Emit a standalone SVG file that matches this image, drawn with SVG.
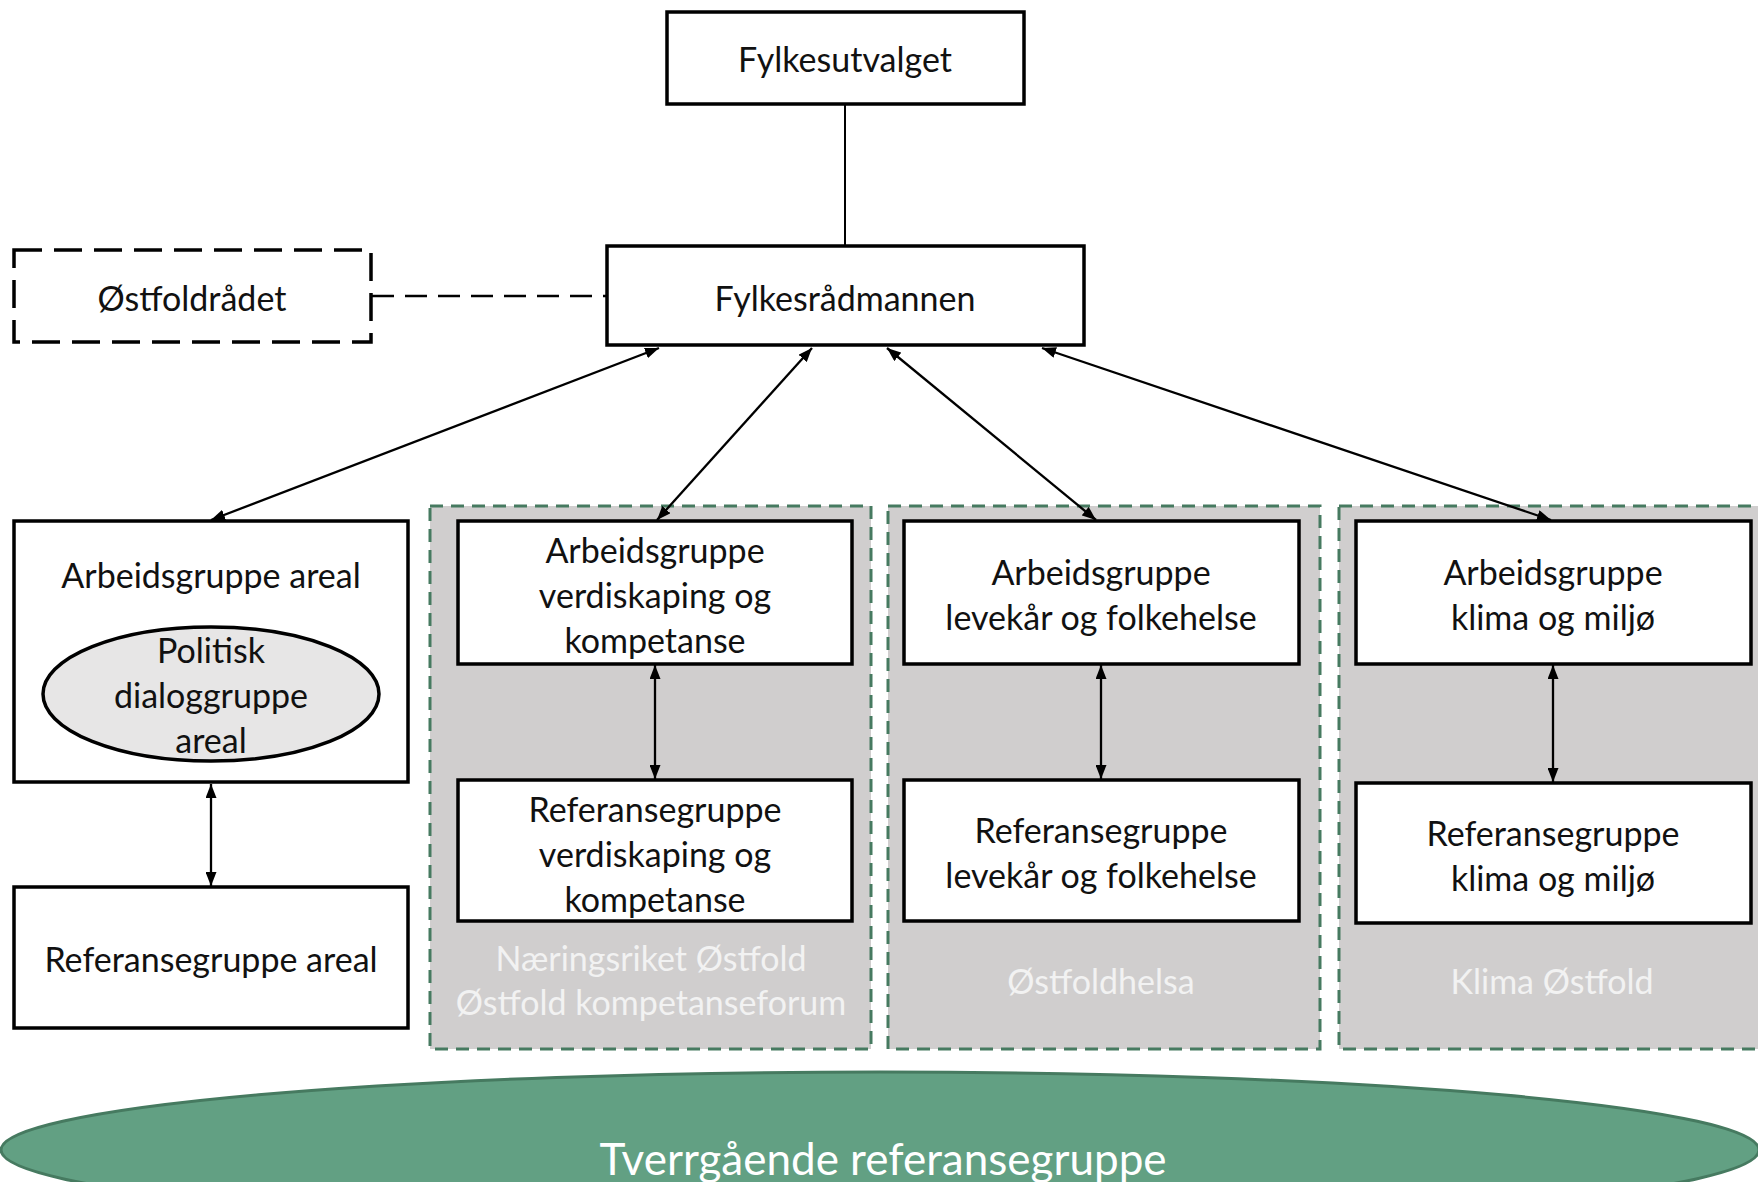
<svg xmlns="http://www.w3.org/2000/svg" width="1758" height="1182" viewBox="0 0 1758 1182">
<defs>
<marker id="ah" viewBox="0 0 14 11" refX="14" refY="5.5" markerWidth="14" markerHeight="11" markerUnits="userSpaceOnUse" orient="auto-start-reverse">
<path d="M0,0 L14,5.5 L0,11 Z" fill="#000"/>
</marker>
<style>
.box{fill:#fff;stroke:#000;stroke-width:3.5}
.grp{fill:#d0cece;stroke:#467a60;stroke-width:3;stroke-dasharray:13 8}
.t{font-family:Lato,"Open Sans","Liberation Sans",sans-serif;font-weight:400;font-size:34px;fill:#111;text-anchor:middle;dominant-baseline:central}
.gl{fill:#f2f2f2}
.c{stroke:#000;stroke-width:2;fill:none}
.ca{stroke:#000;stroke-width:2.3;fill:none;marker-start:url(#ah);marker-end:url(#ah)}
</style>
</defs>
<rect width="1758" height="1182" fill="#fff"/>

<g id="group-naering">
<rect class="grp" x="430" y="506" width="441" height="543"/>
<text class="t gl" x="651" y="957">Næringsriket Østfold</text>
<text class="t gl" x="651" y="1001">Østfold kompetanseforum</text>
</g>
<g id="group-helsa">
<rect class="grp" x="888" y="506" width="432" height="543"/>
<text class="t gl" x="1101" y="980">Østfoldhelsa</text>
</g>
<g id="group-klima">
<rect class="grp" x="1339" y="506" width="430" height="543"/>
<text class="t gl" x="1552" y="980">Klima Østfold</text>
</g>

<g id="tverrgaende">
<ellipse cx="880" cy="1150" rx="879" ry="78" fill="#62a083" stroke="#467a60" stroke-width="3"/>
<text class="t" x="883" y="1158" style="font-size:44px;fill:#fff">Tverrgående referansegruppe</text>
</g>

<g id="connectors">
<line class="c" x1="845" y1="104" x2="845" y2="246"/>
<line class="c" x1="372" y1="296" x2="606" y2="296" style="stroke-width:2.5;stroke-dasharray:22 11"/>
<line class="ca" x1="659" y1="348" x2="211" y2="520"/>
<line class="ca" x1="812" y1="348" x2="657" y2="520"/>
<line class="ca" x1="887" y1="348" x2="1096" y2="520"/>
<line class="ca" x1="1042" y1="348" x2="1551" y2="520"/>
<line class="ca" x1="211" y1="784" x2="211" y2="886"/>
<line class="ca" x1="655" y1="665" x2="655" y2="779"/>
<line class="ca" x1="1101" y1="665" x2="1101" y2="779"/>
<line class="ca" x1="1553" y1="665" x2="1553" y2="782"/>
</g>

<g id="fylkesutvalget">
<rect class="box" x="667" y="12" width="357" height="92"/>
<text class="t" x="845" y="58">Fylkesutvalget</text>
</g>
<g id="fylkesradmannen">
<rect class="box" x="607" y="246" width="477" height="99"/>
<text class="t" x="845" y="297">Fylkesrådmannen</text>
</g>
<g id="ostfoldradet">
<rect x="14" y="250" width="357" height="92" fill="#fff" stroke="#000" stroke-width="3.5" stroke-dasharray="28 12"/>
<text class="t" x="192" y="297">Østfoldrådet</text>
</g>

<g id="ag-areal">
<rect class="box" x="14" y="521" width="394" height="261"/>
<text class="t" x="211" y="574">Arbeidsgruppe areal</text>
</g>
<g id="politisk-dialoggruppe">
<ellipse cx="211" cy="694" rx="168" ry="67" fill="#e7e6e6" stroke="#000" stroke-width="3.5"/>
<text class="t" x="211" y="649">Politisk</text>
<text class="t" x="211" y="694">dialoggruppe</text>
<text class="t" x="211" y="739">areal</text>
</g>
<g id="rg-areal">
<rect class="box" x="14" y="887" width="394" height="141"/>
<text class="t" x="211" y="958">Referansegruppe areal</text>
</g>

<g id="ag-verdiskaping">
<rect class="box" x="458" y="521" width="394" height="143"/>
<text class="t" x="655" y="549">Arbeidsgruppe</text>
<text class="t" x="655" y="594">verdiskaping og</text>
<text class="t" x="655" y="639">kompetanse</text>
</g>
<g id="rg-verdiskaping">
<rect class="box" x="458" y="780" width="394" height="141"/>
<text class="t" x="655" y="808">Referansegruppe</text>
<text class="t" x="655" y="853">verdiskaping og</text>
<text class="t" x="655" y="898">kompetanse</text>
</g>

<g id="ag-levekar">
<rect class="box" x="904" y="521" width="395" height="143"/>
<text class="t" x="1101" y="571">Arbeidsgruppe</text>
<text class="t" x="1101" y="616">levekår og folkehelse</text>
</g>
<g id="rg-levekar">
<rect class="box" x="904" y="780" width="395" height="141"/>
<text class="t" x="1101" y="829">Referansegruppe</text>
<text class="t" x="1101" y="874">levekår og folkehelse</text>
</g>

<g id="ag-klima">
<rect class="box" x="1356" y="521" width="395" height="143"/>
<text class="t" x="1553" y="571">Arbeidsgruppe</text>
<text class="t" x="1553" y="616">klima og miljø</text>
</g>
<g id="rg-klima">
<rect class="box" x="1356" y="783" width="395" height="140"/>
<text class="t" x="1553" y="832">Referansegruppe</text>
<text class="t" x="1553" y="877">klima og miljø</text>
</g>
</svg>
